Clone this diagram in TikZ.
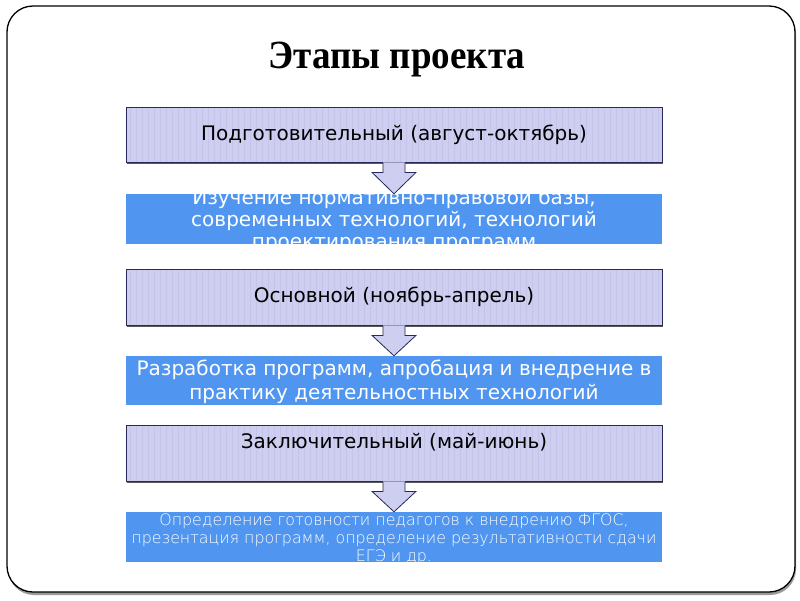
\documentclass[tikz,border=0pt]{standalone}
\usepackage{fontspec}
\setmainfont{DejaVu Sans}
\newfontfamily\titlefont{Liberation Serif}
\newfontfamily\lightfont{DejaVu Sans ExtraLight}
\usetikzlibrary{calc,shadows}
\definecolor{lav}{RGB}{206,206,240}
\definecolor{lavline}{RGB}{196,196,232}
\definecolor{navy}{RGB}{40,40,90}
\definecolor{blu}{RGB}{80,150,240}
\definecolor{shade}{RGB}{90,90,90}
\tikzset{
  stage/.style={draw=navy, line width=0.8pt, fill=lav, minimum width=536pt, minimum height=55pt,
    inner sep=0pt, align=center, font=\fontsize{20}{23}\selectfont,
    drop shadow={shadow xshift=0.8pt, shadow yshift=-2pt, fill=shade, opacity=1},
    path picture={\foreach \i in {4,10,...,540}{\draw[lavline, line width=1pt]
      ([xshift=\i pt]path picture bounding box.south west) --
      ([xshift=\i pt]path picture bounding box.north west);}}},
  result/.style={fill=blu, minimum width=536pt, inner sep=0pt},
  resulttext/.style={text=white, align=center, inner sep=0pt},
  arrowfill/.style={fill=lav},
  arrowline/.style={draw=navy, line width=0.8pt, line join=miter},
  frame/.style={draw=black, line width=1.3pt, fill=white, rounded corners=26pt},
  frameshadow/.style={fill=gray!80, rounded corners=26pt},
}
\newcommand\stagearrow[2]{%
  \path[arrowfill] ($(#1.south)+(-11,0)$) -- ($(#1.south)+(-11,10)$) -- ($(#1.south)+(-22,10)$)
    -- (#2.north) -- ($(#1.south)+(22,10)$) -- ($(#1.south)+(11,10)$) -- ($(#1.south)+(11,0)$) -- cycle;
  \path[arrowline] ($(#1.south)+(-11,0.4)$) -- ($(#1.south)+(-11,10)$) -- ($(#1.south)+(-22,10)$)
    -- (#2.north) -- ($(#1.south)+(22,10)$) -- ($(#1.south)+(11,10)$) -- ($(#1.south)+(11,0.4)$);
}
\begin{document}
\begin{tikzpicture}[x=1pt,y=-1pt]
\useasboundingbox (0,0) rectangle (800,600);
\fill[white] (0,0) rectangle (800,600);
\path[frameshadow] (8,8.5) rectangle (796,595);
\path[frame] (7,6) rectangle (795,592);
\node[anchor=base, xscale=0.925, font=\titlefont\bfseries\fontsize{40}{44}\selectfont] (title) at (397,68) {Этапы проекта};

\node[stage] (l1) at (394,134.5) {Подготовительный (август-октябрь)};
\node[result, minimum height=50pt] (b1) at (394,219) {};
\node[resulttext, font=\fontsize{20}{22}\selectfont] (b1t) at (394,221) {Изучение нормативно-правовой базы,\\современных технологий, технологий\\проектирования программ};

\node[stage, minimum height=56pt] (l2) at (394,297) {Основной (ноябрь-апрель)};
\node[result, minimum height=49pt] (b2) at (394,380.5) {};
\node[resulttext, font=\fontsize{20}{24}\selectfont] (b2t) at (394,382) {Разработка программ, апробация и внедрение в\\практику деятельностных технологий};

\node[stage, minimum height=56pt] (l3) at (394,453) {Заключительный (май-июнь)\\[-6pt]\strut};
\node[result, minimum height=50pt] (b3) at (394,537) {};
\node[resulttext, font=\lightfont\fontsize{15.8}{18}\selectfont] (b3t) at (394,539) {Определение готовности педагогов к внедрению ФГОС,\\презентация программ, определение результативности сдачи\\ЕГЭ и др.};

\stagearrow{l1}{b1}
\stagearrow{l2}{b2}
\stagearrow{l3}{b3}
\end{tikzpicture}
\end{document}
